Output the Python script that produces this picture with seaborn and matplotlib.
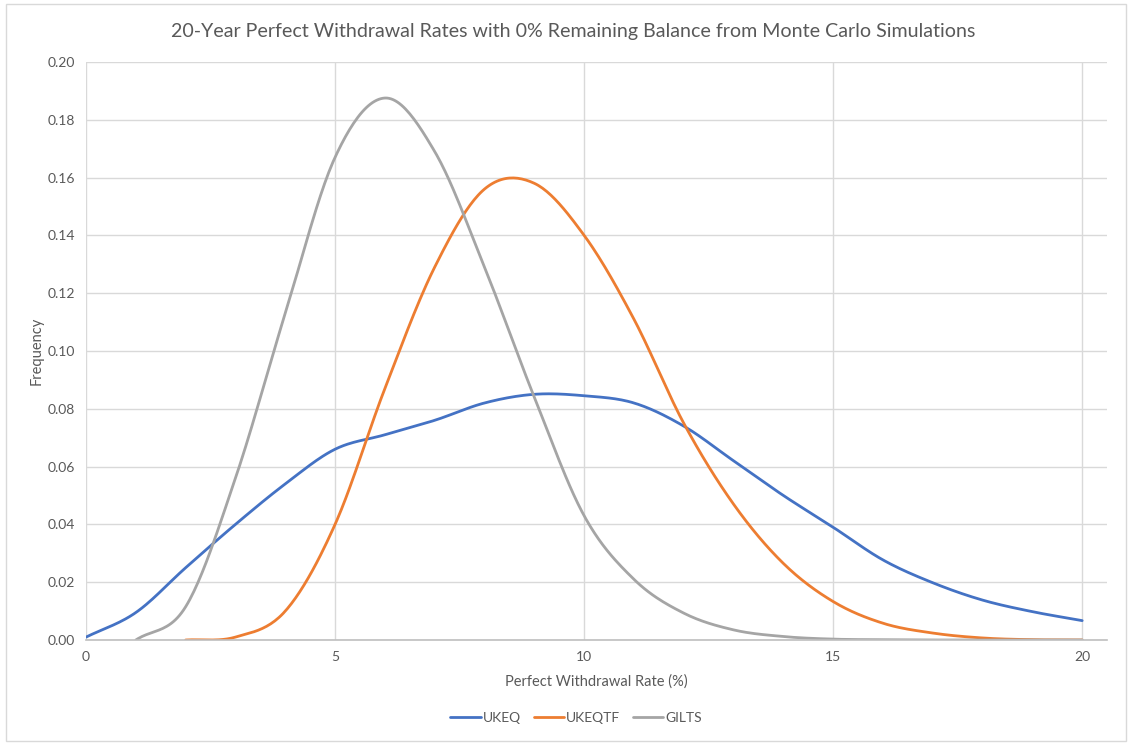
import numpy as np
import pandas as pd
import matplotlib
matplotlib.use("Agg")
import matplotlib.pyplot as plt
import seaborn as sns

# withdrawal rate (%) and frequency
rates = list(range(0, 21))
ukeq = [0.001, 0.0095, 0.025, 0.040, 0.054, 0.066, 0.071, 0.076, 0.082, 0.085, 0.0845,
        0.082, 0.074, 0.062, 0.050, 0.039, 0.0277, 0.0198, 0.0138, 0.0098, 0.0067]
ukeqtf = [None, None, 0.0, 0.001, 0.0100, 0.040, 0.087, 0.129, 0.156, 0.158, 0.140,
          0.111, 0.075, 0.047, 0.0265, 0.0133, 0.0058, 0.0024, 0.0007, 0.0001, 0.0]
gilts = [None, 0.0, 0.0115, 0.056, 0.113, 0.167, 0.1875, 0.169, 0.129, 0.084, 0.043,
         0.021, 0.0093, 0.0035, 0.0012, 0.0003, 0.0001, 0.0, 0.0, 0.0, 0.0]

series = {"UKEQ": ukeq, "UKEQTF": ukeqtf, "GILTS": gilts}
colors = {"UKEQ": "#4472C4", "UKEQTF": "#ED7D31", "GILTS": "#A5A5A5"}


def smooth(x, y, n=24):
    """Catmull-Rom curve through the points, like Excel's smoothed line"""
    x = np.asarray(x, float)
    y = np.asarray(y, float)
    m = np.gradient(y, x)
    xs, ys = [], []
    for i in range(len(x) - 1):
        t = np.linspace(0, 1, n, endpoint=False)
        h = x[i + 1] - x[i]
        h00 = 2 * t**3 - 3 * t**2 + 1
        h10 = t**3 - 2 * t**2 + t
        h01 = -2 * t**3 + 3 * t**2
        h11 = t**3 - t**2
        xs.append(x[i] + t * h)
        ys.append(h00 * y[i] + h10 * h * m[i] + h01 * y[i + 1] + h11 * h * m[i + 1])
    xs.append([x[-1]])
    ys.append([y[-1]])
    return np.concatenate(xs), np.concatenate(ys)


frames = []
for name, vals in series.items():
    pts = [(r, v) for r, v in zip(rates, vals) if v is not None]
    sx, sy = smooth([p[0] for p in pts], [p[1] for p in pts])
    frames.append(pd.DataFrame({"rate": sx, "freq": sy, "series": name}))
df = pd.concat(frames, ignore_index=True)

sns.set_style("white")
plt.rcParams["font.family"] = ["Lato", "DejaVu Sans"]

fig = plt.figure(figsize=(11.32, 7.44), dpi=100)
ax = fig.add_axes([0.076, 0.1398, 0.902, 0.777])

sns.lineplot(data=df, x="rate", y="freq", hue="series", palette=colors,
             sort=False, linewidth=2, ax=ax, legend=False)

ax.set_xlim(0, 20.5)
ax.set_ylim(0, 0.20)
ax.set_xticks([0, 5, 10, 15, 20])
ax.set_yticks(np.arange(0, 0.201, 0.02))
ax.set_yticklabels([f"{v:.2f}" for v in np.arange(0, 0.201, 0.02)])
ax.grid(True, color="#d9d9d9", linewidth=1)
ax.set_axisbelow(True)
for s in ["top", "right", "left"]:
    ax.spines[s].set_visible(False)
ax.spines["bottom"].set_color("#bfbfbf")
ax.spines["bottom"].set_linewidth(1.2)
ax.tick_params(length=0, labelsize=10, labelcolor="#595959", pad=8)

ax.set_xlabel("Perfect Withdrawal Rate (%)", fontsize=10.5, color="#595959", labelpad=8)
ax.set_ylabel("Frequency", fontsize=10.5, color="#595959", labelpad=3)
fig.text(0.506, 0.957, "20-Year Perfect Withdrawal Rates with 0% Remaining Balance from Monte Carlo Simulations",
         ha="center", va="center", fontsize=14.1, color="#595959")

handles = [plt.Line2D([], [], color=colors[k], linewidth=2) for k in series]
fig.legend(handles, list(series), loc="center", bbox_to_anchor=(0.509, 0.035),
           ncol=3, frameon=False, fontsize=10, labelcolor="#595959",
           handlelength=2.2, handletextpad=0.15, columnspacing=0.9)

# chart area border
fig.patches.append(plt.Rectangle((0.005, 0.004), 0.99, 0.99, transform=fig.transFigure,
                                 fill=False, edgecolor="#d9d9d9", linewidth=1))

fig.savefig("out.png", dpi=100)
